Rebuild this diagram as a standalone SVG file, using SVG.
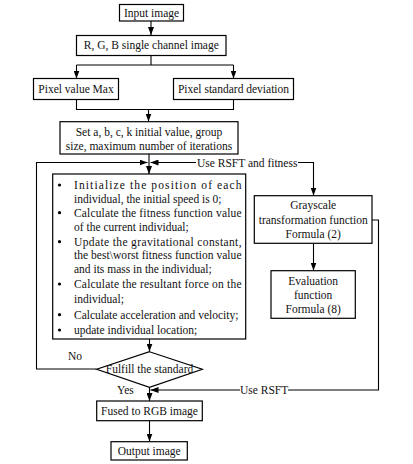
<svg xmlns="http://www.w3.org/2000/svg" width="413" height="464" viewBox="0 0 413 464">
<defs>
<marker id="ah" markerUnits="userSpaceOnUse" markerWidth="8" markerHeight="6" refX="8" refY="3" orient="auto">
<path d="M0,0 L8,3 L0,6 z" fill="#000"/>
</marker>
<style>
.b{fill:#fff;stroke:#000;stroke-width:1.2}
.t{font-family:"Liberation Serif","Times New Roman",serif;font-size:11.5px;fill:#111}
.c{text-anchor:middle}
.l{fill:none;stroke:#000;stroke-width:1.1}
.a{marker-end:url(#ah)}
</style>
</defs>
<rect width="413" height="464" fill="#fff"/>
<g id="connectors">
<path class="l a" d="M151,21 V35"/>
<path class="l" d="M151,55 V65 M76.5,65 H233.5"/>
<path class="l a" d="M76.5,65 V78.5"/>
<path class="l a" d="M233.5,65 V78.5"/>
<path class="l" d="M76.5,99.5 V109.5 H233.5 V99.5"/>
<path class="l a" d="M148.5,109.5 V121.5"/>
<path class="l a" d="M149,154 V174"/>
<path class="l a" d="M96.5,369 H36.5 V162.5 H147.5"/>
<path class="l a" d="M298,162.5 H313.5 V195.5"/>
<path class="l a" d="M196,162.5 H150.5"/>
<path class="l a" d="M313.5,243.5 V270.5"/>
<path class="l" d="M372,220 H378.5 V390 H288"/>
<path class="l a" d="M240,390 H150.5"/>
<path class="l a" d="M149.5,339 V351.5"/>
<path class="l a" d="M149.5,387.5 V401"/>
<path class="l a" d="M149.5,420.5 V441.5"/>
</g>
<g id="labels">
<text class="t" x="197" y="166.5">Use RSFT and fitness</text>
<text class="t" x="68" y="360">No</text>
<text class="t" x="117" y="394">Yes</text>
<text class="t" x="240" y="394">Use RSFT</text>
</g>
<g id="input">
<rect class="b" x="119.5" y="4.5" width="64" height="16.5"/>
<text class="t c" x="151.5" y="16.8">Input image</text>
</g>
<g id="rgb">
<rect class="b" x="76.5" y="35.5" width="149.5" height="20"/>
<text class="t c" x="151.3" y="49.3">R, G, B single channel image</text>
</g>
<g id="pmax">
<rect class="b" x="33.5" y="78.5" width="85" height="21"/>
<text class="t c" x="76" y="93">Pixel value Max</text>
</g>
<g id="pstd">
<rect class="b" x="173.5" y="78.5" width="120" height="21"/>
<text class="t c" x="233.5" y="93">Pixel standard deviation</text>
</g>
<g id="set">
<rect class="b" x="60" y="121.7" width="178" height="32.3"/>
<text class="t c" x="149" y="135.8">Set a, b, c, k initial value, group</text>
<text class="t c" x="149" y="149.8">size, maximum number of iterations</text>
</g>
<g id="gsa">
<rect class="b" x="52.7" y="174" width="193" height="165"/>
<g fill="#000">
<circle cx="59.5" cy="185" r="1.6"/>
<circle cx="59.5" cy="212.7" r="1.6"/>
<circle cx="59.5" cy="241.7" r="1.6"/>
<circle cx="59.5" cy="284" r="1.6"/>
<circle cx="59.5" cy="314.7" r="1.6"/>
<circle cx="59.5" cy="330" r="1.6"/>
</g>
<text class="t" x="74" y="189" textLength="167.5" lengthAdjust="spacing">Initialize the position of each</text>
<text class="t" x="74" y="203.3">individual, the initial speed is 0;</text>
<text class="t" x="74" y="216.8" textLength="167.5" lengthAdjust="spacing">Calculate the fitness function value</text>
<text class="t" x="74" y="231.3">of the current individual;</text>
<text class="t" x="74" y="245.8" textLength="167.5" lengthAdjust="spacing">Update the gravitational constant,</text>
<text class="t" x="74" y="259.4" textLength="167.5" lengthAdjust="spacing">the best\worst fitness function value</text>
<text class="t" x="74" y="273.4">and its mass in the individual;</text>
<text class="t" x="74" y="288" textLength="167.5" lengthAdjust="spacing">Calculate the resultant force on the</text>
<text class="t" x="74" y="302.8">individual;</text>
<text class="t" x="74" y="318.8">Calculate acceleration and velocity;</text>
<text class="t" x="74" y="334">update individual location;</text>
</g>
<g id="gray">
<rect class="b" x="254.3" y="195.7" width="117.7" height="47.6"/>
<text class="t c" x="313.2" y="209">Grayscale</text>
<text class="t c" x="313.2" y="224">transformation function</text>
<text class="t c" x="313.2" y="238">Formula (2)</text>
</g>
<g id="eval">
<rect class="b" x="271" y="270.7" width="84.3" height="47.6"/>
<text class="t c" x="313.2" y="284.8">Evaluation</text>
<text class="t c" x="313.2" y="299.3">function</text>
<text class="t c" x="313.2" y="313.3">Formula (8)</text>
</g>
<g id="decision">
<path class="b" d="M149.5,351.7 L202.3,369.3 L149.5,387.3 L96.7,369.3 Z"/>
<text class="t c" x="149.5" y="373.3">Fulfill the standard</text>
</g>
<g id="fused">
<rect class="b" x="96.7" y="401" width="105.6" height="19.7"/>
<text class="t c" x="149.5" y="414.8">Fused to RGB image</text>
</g>
<g id="output">
<rect class="b" x="111" y="441.7" width="76.3" height="18.3"/>
<text class="t c" x="149.2" y="454.8">Output image</text>
</g>
</svg>
